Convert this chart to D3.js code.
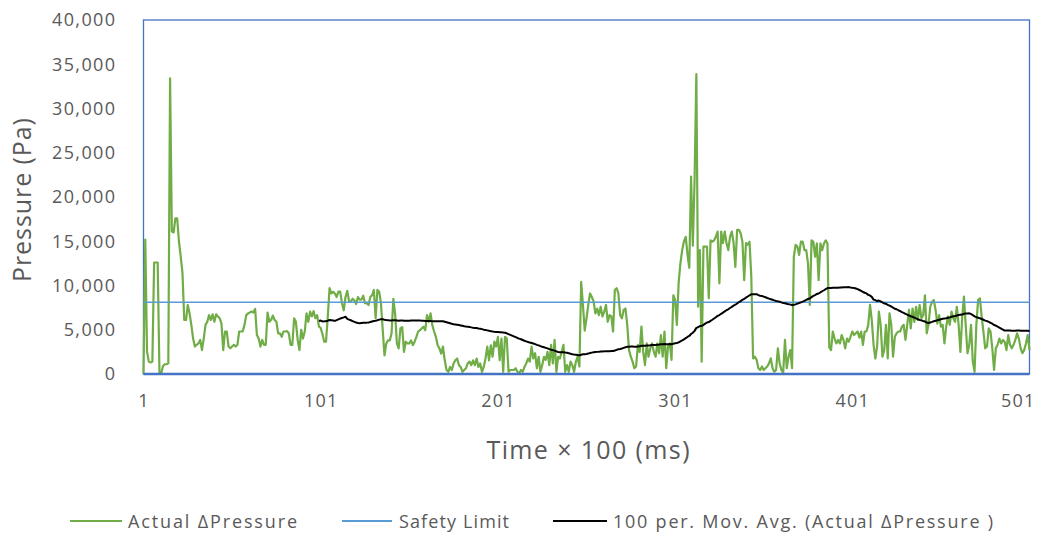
<!DOCTYPE html>
<html><head><meta charset="utf-8">
<script src="https://cdn.jsdelivr.net/npm/d3@7"></script>
<style>body{margin:0;background:#fff;} svg{display:block;}</style>
</head><body>
<svg id="chart" width="1037" height="535"></svg>
<script>
// Actual ΔPressure (Pa), one value per sample (Time × 100 ms), samples 1..501
const pressure = [
  0, 15200, 2500, 1400, 1300, 1400, 12600, 12600, 12600, 200,
  100, 900, 1100, 1100, 1200, 33400, 16100, 16000, 17600, 17600,
  15000, 13300, 11400, 6100, 6100, 7800, 6850, 5550, 4000, 3100,
  3300, 3450, 3850, 2700, 4000, 5550, 5900, 6650, 6100, 6750,
  5900, 6750, 6500, 6300, 5700, 2700, 4800, 4800, 3100, 2900,
  3100, 3300, 3100, 3300, 4800, 4800, 4800, 5550, 6650, 6850,
  6950, 7050, 6950, 7350, 4400, 4000, 3100, 3850, 3300, 3300,
  6950, 5900, 6100, 6600, 6100, 5900, 4600, 4600, 4200, 4800,
  4800, 4850, 4600, 3300, 3300, 6300, 5900, 3850, 2700, 5000,
  4000, 4800, 6850, 5900, 7050, 6500, 7100, 6300, 6650, 5350,
  5200, 4500, 3650, 3650, 6500, 9700, 9100, 9300, 9100, 8700,
  9300, 9300, 8000, 7200, 8700, 9400, 8200, 8200, 8500, 8300,
  7900, 8700, 8400, 8400, 8850, 8000, 8000, 7800, 8700, 8900,
  9500, 6300, 9500, 9300, 8000, 5000, 2100, 3450, 3800, 3800,
  4600, 8500, 6800, 3450, 2900, 5150, 5300, 2500, 3650, 3450,
  3450, 3800, 3250, 3650, 4200, 4800, 4950, 5150, 5350, 4950,
  6650, 5900, 6850, 5500, 4800, 4200, 3250, 2900, 2300, 3100,
  1550, 450, 250, 800, 450, 1200, 1550, 1750, 1000, 800,
  250, 450, 650, 1200, 1400, 1000, 1550, 1000, 1750, 800,
  1200, 250, 800, 1750, 3100, 1550, 3250, 1950, 3650, 3100,
  4200, 1550, 4000, 250, 4200, 4000, 250, 450, 450, 450,
  650, 250, 75, 450, 250, 800, 1200, 1750, 1400, 3100,
  1750, 2350, 650, 1950, 250, 1000, 1950, 1600, 2500, 1000,
  3300, 1200, 3850, 250, 1950, 1750, 2500, 3300, 250, 1000,
  250, 1400, 1000, 250, 1400, 1950, 850, 10400, 7800, 4900,
  6300, 7800, 9100, 8700, 8200, 6850, 7400, 6650, 7600, 6500,
  7050, 7800, 5900, 6650, 6500, 4800, 9500, 9700, 9100, 6650,
  6300, 7250, 7400, 5550, 2700, 1950, 1400, 650, 850, 3300,
  2500, 5350, 2500, 1000, 3450, 1950, 2900, 3450, 2500, 1950,
  3450, 2350, 4400, 1950, 4800, 650, 3100, 3450, 1600, 8900,
  8350, 5550, 10300, 12500, 14000, 15000, 15500, 13500, 12000, 22300,
  14500, 22000, 33900, 7600, 14000, 1400, 14400, 14400, 14400, 8550,
  15100, 14950, 15100, 15500, 16100, 10250, 16100, 14800, 16100, 14800,
  14000, 15500, 16100, 14800, 12100, 16300, 16300, 15900, 14950, 10600,
  14800, 14600, 14950, 11000, 1770, 1950, 1600, 650, 450, 850,
  450, 650, 850, 1200, 1770, 650, 250, 450, 2900, 1200,
  450, 150, 3850, 650, 1950, 2700, 650, 13250, 14600, 14400,
  13450, 14950, 14950, 14000, 14000, 12500, 7800, 15100, 14950, 13250,
  14750, 10600, 14750, 14000, 14750, 15100, 14750, 3000, 2700, 4800,
  4000, 3450, 3850, 3450, 4400, 3850, 2900, 4000, 3650, 4200,
  4800, 4400, 4600, 4800, 4100, 4800, 3300, 4800, 4800, 5550,
  7800, 6100, 3300, 1750, 3100, 7050, 5550, 1950, 2700, 5550,
  1750, 6850, 5550, 1950, 4200, 4600, 4800, 4800, 5350, 5550,
  3850, 5550, 7250, 5150, 7400, 5900, 7600, 6100, 7800, 6300,
  6650, 8900, 4600, 5550, 7600, 8150, 8350, 7250, 5700, 6650,
  5350, 5550, 3450, 5350, 6500, 5550, 7050, 6300, 5900, 7600,
  5550, 2500, 6300, 8750, 5550, 2350, 3300, 5550, 1400, 250,
  5550, 8350, 8550, 6500, 4800, 2900, 3100, 5150, 4800, 2900,
  450, 2900, 3300, 4000, 3450, 3850, 3650, 2700, 4400, 3300,
  2900, 3300, 3850, 4600, 4000, 2900, 2350, 2700, 3450, 4400,
  2700
];
const safetyLimit = 8100;
const maPeriod = 100;
const yTickValues = [0, 5000, 10000, 15000, 20000, 25000, 30000, 35000, 40000];
const xTickValues = [1, 101, 201, 301, 401, 501];
const seriesNames = ["Actual ΔPressure", "Safety Limit", "100 per. Mov. Avg. (Actual ΔPressure )"];
const yTitle = "Pressure (Pa)";
const xTitle = "Time × 100 (ms)";

const colors = {green: "#70AD47", blue: "#5B9BD5", black: "#000000", frame: "#4472C4", text: "#595959"};
const FONT = "'Open Sans', 'Noto Sans', sans-serif";

const svg = d3.select("#chart");
const W = 1037, H = 535;
const plot = {left: 143.5, right: 1029.5, top: 20, bottom: 374};

const samples = pressure.map((v, i) => ({t: i + 1, v}));
const x = d3.scaleLinear().domain([1, pressure.length]).range([plot.left, plot.right]);
const y = d3.scaleLinear().domain([0, 40000]).range([plot.bottom, plot.top]);

// moving average (trailing window, as Excel's trendline)
const movAvg = [];
for (let i = maPeriod - 1; i < pressure.length; i++) {
  movAvg.push({t: i + 1, v: d3.mean(pressure.slice(i - maPeriod + 1, i + 1))});
}

svg.append("rect").attr("width", W).attr("height", H).attr("fill", "#fff");

// plot frame
svg.append("rect")
  .attr("x", plot.left).attr("y", plot.top)
  .attr("width", plot.right - plot.left).attr("height", plot.bottom - plot.top)
  .attr("fill", "none").attr("stroke", colors.frame).attr("stroke-width", 1.3);

// y axis
const yAxis = svg.append("g").attr("transform", `translate(${plot.left},0)`)
  .call(d3.axisLeft(y).tickValues(yTickValues).tickFormat(d3.format(",")).tickSize(0).tickPadding(27));
yAxis.select(".domain").remove();
yAxis.selectAll("text").attr("font-family", FONT).attr("font-size", 18)
  .attr("fill", colors.text).attr("letter-spacing", 1.4);

// x axis
const xAxis = svg.append("g").attr("transform", `translate(0,${plot.bottom})`)
  .call(d3.axisBottom(x).tickValues(xTickValues).tickFormat(d3.format("d")).tickSize(0).tickPadding(20));
xAxis.select(".domain").remove();
xAxis.selectAll("text").attr("font-family", FONT).attr("font-size", 18)
  .attr("fill", colors.text).attr("letter-spacing", 1.2);
// keep the last label inside the picture
xAxis.selectAll(".tick").filter(d => d === xTickValues[xTickValues.length - 1])
  .select("text").attr("text-anchor", "end").attr("x", W - 2 - plot.right);

const line = d3.line().x(d => x(d.t)).y(d => y(d.v));

svg.append("path").datum(samples).attr("d", line)
  .attr("fill", "none").attr("stroke", colors.green).attr("stroke-width", 2.2)
  .attr("stroke-linejoin", "round");

svg.append("path").datum([{t: 1, v: safetyLimit}, {t: pressure.length, v: safetyLimit}]).attr("d", line)
  .attr("fill", "none").attr("stroke", colors.blue).attr("stroke-width", 1.6);

svg.append("path").datum(movAvg).attr("d", line)
  .attr("fill", "none").attr("stroke", colors.black).attr("stroke-width", 2)
  .attr("stroke-linejoin", "round");

// bottom axis line
svg.append("line").attr("x1", plot.left).attr("x2", plot.right)
  .attr("y1", plot.bottom).attr("y2", plot.bottom)
  .attr("stroke", colors.frame).attr("stroke-width", 2.4);

// axis titles
svg.append("text").attr("transform", `translate(31,200) rotate(-90)`)
  .attr("text-anchor", "middle").attr("font-family", FONT).attr("font-size", 25)
  .attr("fill", colors.text).attr("textLength", 164).attr("lengthAdjust", "spacing")
  .text(yTitle);
svg.append("text").attr("x", 588).attr("y", 459)
  .attr("text-anchor", "middle").attr("font-family", FONT).attr("font-size", 25)
  .attr("fill", colors.text).attr("textLength", 203).attr("lengthAdjust", "spacing")
  .text(xTitle);

// legend
const legendItems = [
  {name: seriesNames[0], color: colors.green, x1: 70, x2: 122, tx: 128, tw: 169},
  {name: seriesNames[1], color: colors.blue, x1: 342, x2: 392, tx: 399, tw: 110},
  {name: seriesNames[2], color: colors.black, x1: 553, x2: 607, tx: 613, tw: 380}
];
const lg = svg.append("g");
legendItems.forEach(it => {
  lg.append("line").attr("x1", it.x1).attr("x2", it.x2).attr("y1", 521).attr("y2", 521)
    .attr("stroke", it.color).attr("stroke-width", 2.2);
  lg.append("text").attr("x", it.tx).attr("y", 527.5)
    .attr("font-family", FONT).attr("font-size", 18).attr("fill", colors.text)
    .attr("textLength", it.tw).attr("lengthAdjust", "spacing")
    .text(it.name);
});
</script>
</body></html>
